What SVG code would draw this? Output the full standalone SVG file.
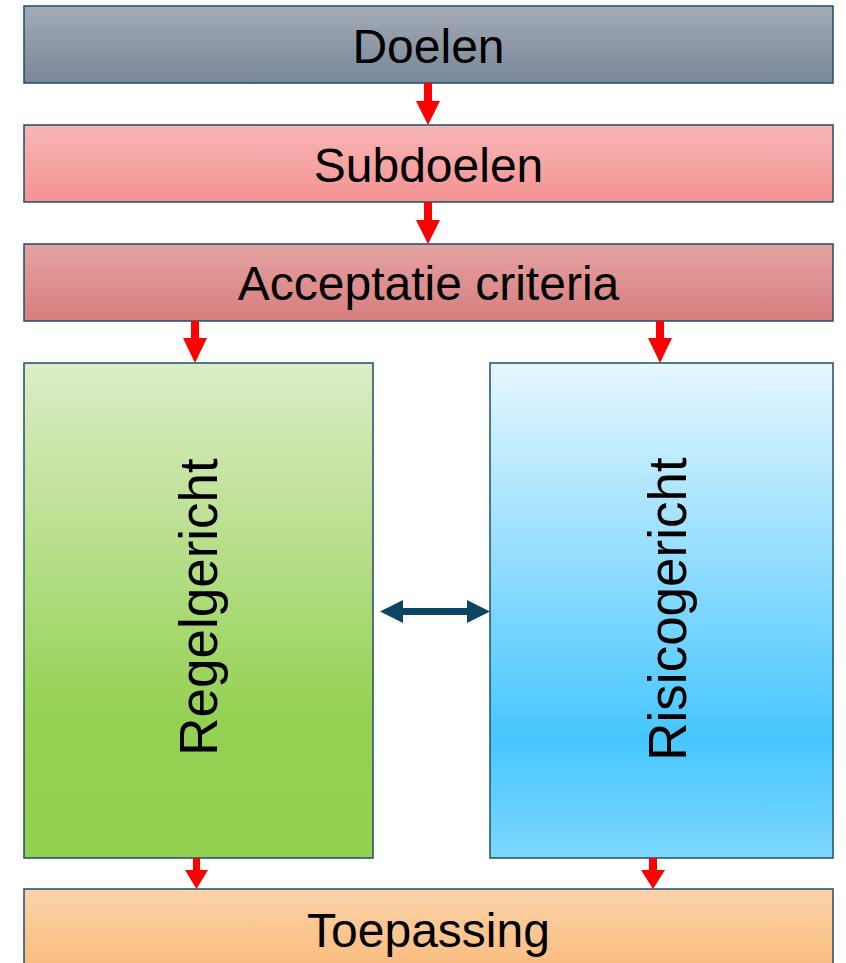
<svg xmlns="http://www.w3.org/2000/svg" width="846" height="963" viewBox="0 0 846 963">
  <defs>
    <linearGradient id="gDoelen" x1="0" y1="0" x2="0" y2="1">
      <stop offset="0" stop-color="#a3abb6"/>
      <stop offset="1" stop-color="#7a8797"/>
    </linearGradient>
    <linearGradient id="gSub" x1="0" y1="0" x2="0" y2="1">
      <stop offset="0" stop-color="#f8b6b6"/>
      <stop offset="1" stop-color="#f49292"/>
    </linearGradient>
    <linearGradient id="gAcc" x1="0" y1="0" x2="0" y2="1">
      <stop offset="0" stop-color="#e5a3a3"/>
      <stop offset="1" stop-color="#d77d7d"/>
    </linearGradient>
    <linearGradient id="gRegel" x1="0" y1="0" x2="0" y2="1">
      <stop offset="0" stop-color="#dcedc7"/>
      <stop offset="0.72" stop-color="#94d152"/>
      <stop offset="1" stop-color="#92d050"/>
    </linearGradient>
    <linearGradient id="gRisico" x1="0" y1="0" x2="0" y2="1">
      <stop offset="0" stop-color="#e6f7fe"/>
      <stop offset="0.76" stop-color="#46c6ff"/>
      <stop offset="1" stop-color="#7dd7ff"/>
    </linearGradient>
    <linearGradient id="gToep" x1="0" y1="0" x2="0" y2="1">
      <stop offset="0" stop-color="#fcd3a8"/>
      <stop offset="1" stop-color="#f9bb7e"/>
    </linearGradient>
  </defs>
  <style>
    .box { stroke: #1f4e68; stroke-width: 1.5; }
    .lbl { font-family: "Liberation Sans", Arial, sans-serif; font-size: 48px; fill: #000; text-anchor: middle; }
    .vlbl { font-family: "Liberation Sans", Arial, sans-serif; font-size: 53px; fill: #000; text-anchor: middle; }
    .flow { fill: #ff0000; }
    .link { fill: #0d4664; }
  </style>

  <g id="doelen">
    <rect class="box" x="24" y="6" width="809" height="77" fill="url(#gDoelen)"/>
    <text class="lbl" x="428.5" y="63">Doelen</text>
  </g>
  <g id="subdoelen">
    <rect class="box" x="24" y="125" width="809" height="77" fill="url(#gSub)"/>
    <text class="lbl" x="428.5" y="182">Subdoelen</text>
  </g>
  <g id="acceptatie">
    <rect class="box" x="24" y="244" width="809" height="77" fill="url(#gAcc)"/>
    <text class="lbl" x="428.5" y="300">Acceptatie criteria</text>
  </g>
  <g id="regelgericht">
    <rect class="box" x="24" y="363" width="349" height="495" fill="url(#gRegel)"/>
    <text class="vlbl" transform="translate(217 607) rotate(-90)">Regelgericht</text>
  </g>
  <g id="risicogericht">
    <rect class="box" x="490" y="363" width="343" height="495" fill="url(#gRisico)"/>
    <text class="vlbl" transform="translate(686 609) rotate(-90)">Risicogericht</text>
  </g>
  <g id="toepassing">
    <rect class="box" x="24" y="889" width="809" height="80" fill="url(#gToep)"/>
    <text class="lbl" x="428.5" y="947">Toepassing</text>
  </g>

  <g id="connectors">
    <!-- downward flow arrows: shaft + head -->
    <polygon class="flow" points="424,83 432,83 432,101 440,101 428,125 416,101 424,101"/>
    <polygon class="flow" points="424,202 432,202 432,220 440,220 428,244 416,220 424,220"/>
    <polygon class="flow" points="191,321 199,321 199,338 207,338 195,363 183,338 191,338"/>
    <polygon class="flow" points="656,321 664,321 664,338 672,338 660,363 648,338 656,338"/>
    <polygon class="flow" points="193,858 200,858 200,870 208,870 196.5,889 185,870 193,870"/>
    <polygon class="flow" points="649,858 657,858 657,870 665,870 653,889 641,870 649,870"/>
    <!-- two-way link between the approaches -->
    <polygon class="link" points="380,611.5 403,600 403,608 467,608 467,600 490,611.5 467,623 467,615 403,615 403,623"/>
  </g>
</svg>
